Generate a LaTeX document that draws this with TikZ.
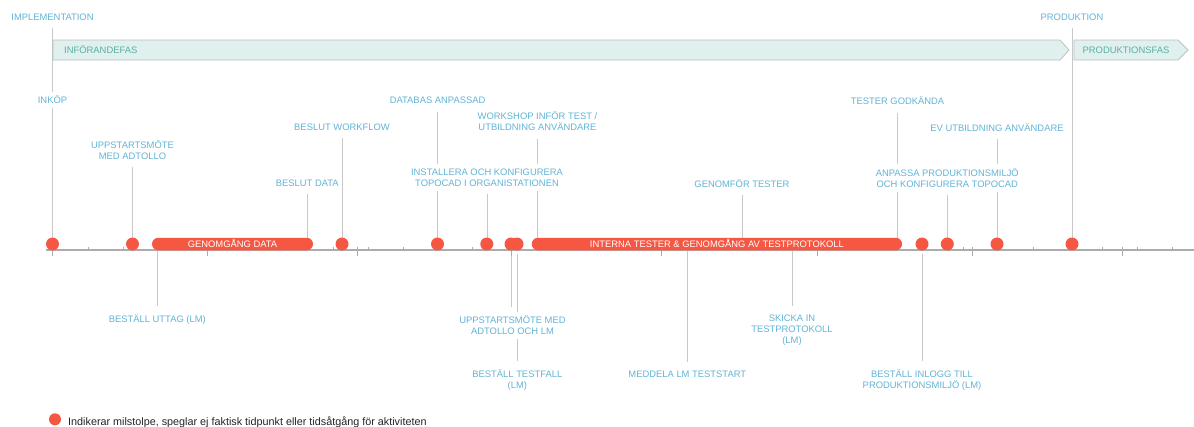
\documentclass[tikz,border=0pt]{standalone}
\usepackage{fontspec}
\setmainfont{Liberation Sans}
\usetikzlibrary{backgrounds}
\definecolor{milered}{RGB}{245,87,67}
\definecolor{lblblue}{RGB}{98,180,214}
\definecolor{fasteal}{RGB}{88,178,158}
\definecolor{fasfill}{RGB}{223,240,238}
\definecolor{fasline}{RGB}{188,192,192}
\definecolor{linegray}{RGB}{200,200,200}
\definecolor{axisgray}{RGB}{172,172,172}
\definecolor{legendgray}{RGB}{35,35,35}
\tikzset{
  lbl/.style={text=lblblue, fill=white, align=center, inner xsep=3pt, inner ysep=4.5pt,
    font=\fontsize{9.4}{10.8}\selectfont},
  fastext/.style={text=fasteal, inner sep=0pt, font=\fontsize{9.4}{10.8}\selectfont},
  milestone/.style={circle, fill=milered, minimum size=13pt, inner sep=0pt},
  mbar/.style={rectangle, rounded corners=6.25pt, fill=milered, minimum height=12.5pt,
    inner sep=0pt, text=white, text height=6.8pt, text depth=0pt,
    font=\fontsize{9.4}{10.8}\selectfont},
  leader/.style={draw=linegray, line width=0.9pt, shorten <=3pt, shorten >=4pt},
  fasbox/.style={draw=fasline, fill=fasfill, line width=0.8pt},
}
\begin{document}
\begin{tikzpicture}[x=1pt,y=-1pt]
	\useasboundingbox (0,0) rectangle (1194,426);

	\draw [fasbox] (53,40)--(1060,40)--(1069,50)--(1060,60)--(53,60)--cycle;
	\draw [fasbox] (1074,40)--(1178,40)--(1188,50)--(1178,60)--(1074,60)--cycle;
	\node at (64,50) [fastext, anchor=west] (infor) {INFÖRANDEFAS};
	\node at (1126,50) [fastext] (prodfas) {PRODUKTIONSFAS};

	\draw [axisgray, line width=1.1pt] (46,250)--(1194,250);
	\draw [axisgray, line width=0.9pt]
	  (52.7,246.5)--(52.7,256) (207,246.5)--(207,256) (357,246.5)--(357,256)
	  (511.7,246.5)--(511.7,256) (661.7,246.5)--(661.7,256) (817,246.5)--(817,256)
	  (972,246.5)--(972,256) (1122,246.5)--(1122,256)
	  (88,247.3)--(88,250) (123,247.3)--(123,250) (333,247.3)--(333,250)
	  (368,247.3)--(368,250) (403,247.3)--(403,250) (472,247.3)--(472,250)
	  (963,247.3)--(963,250) (1033,247.3)--(1033,250) (1102,247.3)--(1102,250)
	  (1137,247.3)--(1137,250) (1172,247.3)--(1172,250)
	;

	\node at (52.5,244) [milestone] (dinkop) {};
	\node at (132.5,244) [milestone] (dupp) {};
	\node at (342,244) [milestone] (dwf) {};
	\node at (437.5,244) [milestone] (ddb) {};
	\node at (486.8,244) [milestone] (dinst) {};
	\node at (511,244) [milestone] (dmote) {};
	\node at (517,244) [milestone] (dtest) {};
	\node at (922,244) [milestone] (dinlogg) {};
	\node at (947.3,244) [milestone] (danp) {};
	\node at (997,244) [milestone] (devu) {};
	\node at (1072,244) [milestone] (dprod) {};
	\node at (232.5,244) [mbar, minimum width=161pt] (bdata) {GENOMGÅNG DATA};
	\node at (716.9,244) [mbar, minimum width=370.3pt] (bint) {INTERNA TESTER \& GENOMGÅNG AV TESTPROTOKOLL};

	\node at (52.5,17) [lbl] (impl) {IMPLEMENTATION};
	\node at (1072,17) [lbl] (prod) {PRODUKTION};
	\node at (52.5,100) [lbl] (inkop) {INKÖP};
	\node at (132.5,150) [lbl] (upp) {UPPSTARTSMÖTE\\MED ADTOLLO};
	\node at (342,127.3) [lbl] (wf) {BESLUT WORKFLOW};
	\node at (307.3,183.3) [lbl] (beslut) {BESLUT DATA};
	\node at (437.6,100.7) [lbl] (db) {DATABAS ANPASSAD};
	\node at (537.5,121.5) [lbl] (ws) {WORKSHOP INFÖR TEST /\\UTBILDNING ANVÄNDARE};
	\node at (487,177.5) [lbl] (inst) {INSTALLERA OCH KONFIGURERA\\TOPOCAD I ORGANISTATIONEN};
	\node at (742,183.3) [lbl] (genf) {GENOMFÖR TESTER};
	\node at (897.5,101) [lbl] (godk) {TESTER GODKÄNDA};
	\node at (997,127.7) [lbl] (evu) {EV UTBILDNING ANVÄNDARE};
	\node at (947.3,178.3) [lbl] (anp) {ANPASSA PRODUKTIONSMILJÖ\\OCH KONFIGURERA TOPOCAD};

	\node at (157.3,320) [lbl] (uttag) {BESTÄLL UTTAG (LM)};
	\node at (512.5,325.5) [lbl] (mote) {UPPSTARTSMÖTE MED\\ADTOLLO OCH LM};
	\node at (517.3,380) [lbl] (testf) {BESTÄLL TESTFALL\\(LM)};
	\node at (687.3,374.3) [lbl] (medd) {MEDDELA LM TESTSTART};
	\node at (792,330) [lbl] (skicka) {SKICKA IN\\TESTPROTOKOLL\\(LM)};
	\node at (922,379.7) [lbl] (inlogg) {BESTÄLL INLOGG TILL\\PRODUKTIONSMILJÖ (LM)};

	\node at (55,419.3) [milestone, minimum size=12pt] (legdot) {};
	\node at (68,425.3) [anchor=base west, inner sep=0pt, text=legendgray, font=\fontsize{10.8}{12}\selectfont] (legtext) {Indikerar milstolpe, speglar ej faktisk tidpunkt eller tidsåtgång för aktiviteten};

	\begin{pgfonlayer}{background}
	\draw [leader]
	  (impl.south) edge (impl.south |- dinkop)
	  (prod.south) edge (prod.south |- dprod)
	  (upp.south) edge (upp.south |- dupp)
	  (wf.south) edge (wf.south |- dwf)
	  (beslut.south) edge (beslut.south |- bdata)
	  (db.south) edge (db.south |- ddb)
	  (ws.south) edge (ws.south |- bint)
	  (inst.south) edge (inst.south |- dinst)
	  (genf.south) edge (genf.south |- bint)
	  (godk.south) edge (godk.south |- bint)
	  (evu.south) edge (evu.south |- devu)
	  (anp.south) edge (anp.south |- danp)

	  (uttag.north |- bdata) edge (uttag.north)
	  (dmote) edge (dmote |- mote.north)
	  (dtest) edge (dtest |- testf.north)
	  (medd.north |- bint) edge (medd.north)
	  (skicka.north |- bint) edge (skicka.north)
	  (dinlogg) edge (dinlogg |- inlogg.north)
	;
	\end{pgfonlayer}

\end{tikzpicture}
\end{document}
